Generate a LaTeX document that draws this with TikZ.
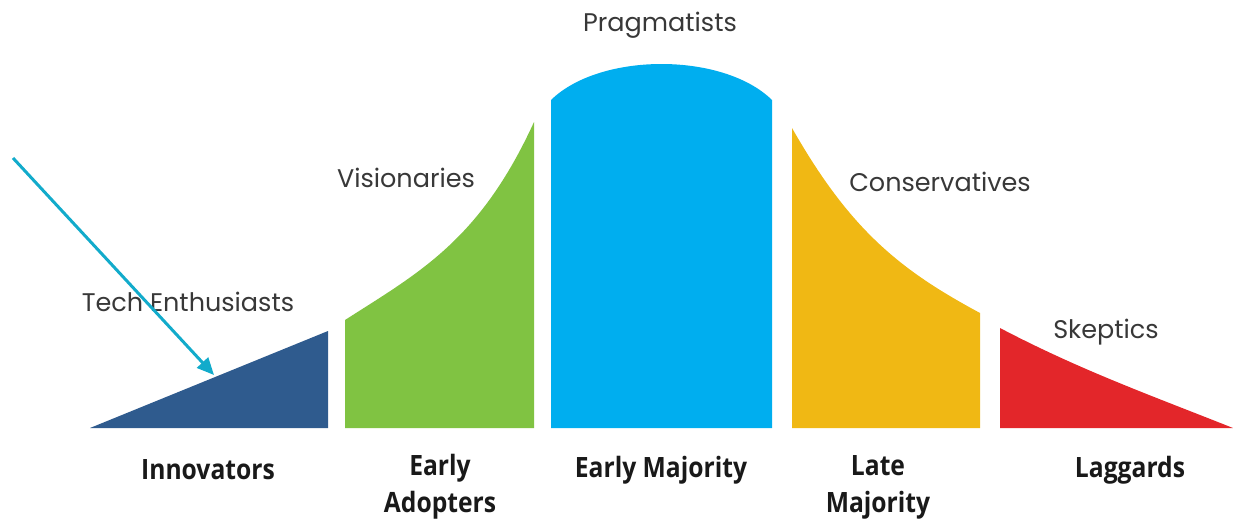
\documentclass[tikz,border=0pt]{standalone}
\usepackage{fontspec}
\setmainfont{Poppins}
\newfontfamily\condfont[FakeStretch=0.88]{Open Sans}
\usetikzlibrary{arrows.meta}
\definecolor{cInno}{HTML}{2F5B8E}
\definecolor{cEarly}{HTML}{80C342}
\definecolor{cMaj}{HTML}{00AEEF}
\definecolor{cLate}{HTML}{F0B814}
\definecolor{cLag}{HTML}{E3262A}
\definecolor{cArrow}{HTML}{12ABCB}
\definecolor{cText}{HTML}{383838}
\tikzset{
  toplabel/.style={font=\fontsize{25.5}{28}\selectfont, text=cText, inner sep=0pt},
  botlabel/.style={font=\condfont\bfseries\fontsize{28}{37}\selectfont, text=black!90, inner sep=0pt, align=center},
  pointer/.style={draw=cArrow, line width=3pt, -{Triangle[length=17pt,width=15pt]}}
}
\begin{document}
\begin{tikzpicture}[x=1pt,y=-1pt]
\useasboundingbox (0,0) rectangle (1233,525);
% segments
\fill[cInno] (90,428) -- (328,331) -- (328,428) -- cycle;
\fill[cEarly] (345,428) -- (345,320) .. controls (420,272) and (480,240) .. (534,122) -- (534,428) -- cycle;
\fill[cMaj] (551,428) -- (551,100) .. controls (600,52) and (723,52) .. (772,100) -- (772,428) -- cycle;
\fill[cLate] (792,428) -- (792,128) .. controls (850,230) and (900,270) .. (980,313) -- (980,428) -- cycle;
\fill[cLag] (1000,428) -- (1000,328) .. controls (1080,370) and (1150,395) .. (1233,428) -- cycle;
% top labels
\node[toplabel] (tech) at (188,302) {Tech Enthusiasts};
\node[toplabel] (vis) at (406,178) {Visionaries};
\node[toplabel] (prag) at (660,25) {Pragmatists};
\node[toplabel] (cons) at (940,182) {Conservatives};
\node[toplabel] (skep) at (1106,332) {Skeptics};
% bottom labels
\node[botlabel] (inno) at (208,470) {Innovators};
\node[botlabel] (ea) at (440,487) {Early\\Adopters};
\node[botlabel] (em) at (661,470) {Early Majority};
\node[botlabel] (lm) at (878,487) {Late\\Majority};
\node[botlabel] (lag) at (1130,470) {Laggards};
% arrow
\coordinate (astart) at (13,158);
\coordinate (aend) at (214,375);
\draw[pointer] (astart) -- (aend);
\end{tikzpicture}
\end{document}
